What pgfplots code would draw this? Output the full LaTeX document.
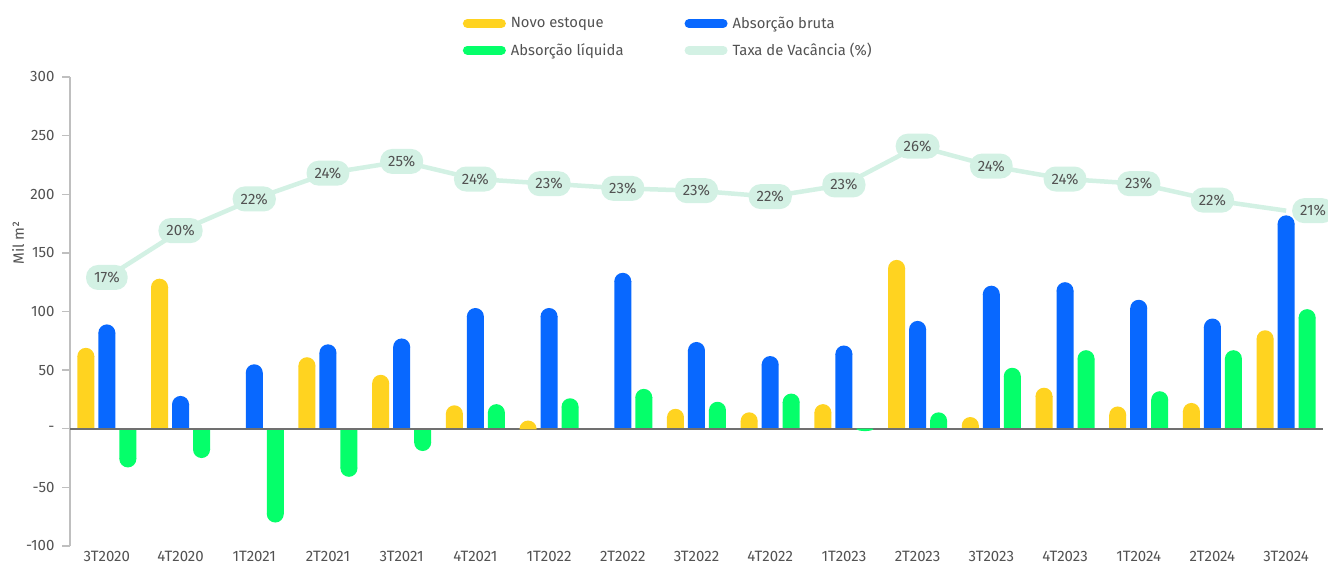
\documentclass[border=0pt]{standalone}
\usepackage{pgfplots}
\pgfplotsset{compat=1.18}
\usepackage{pgfplotstable}
\usepackage{fontspec}
\setmainfont{Fira Sans}
\definecolor{ycol}{HTML}{FFD320}
\definecolor{bcol}{HTML}{0868FF}
\definecolor{gcol}{HTML}{05FF6A}
\definecolor{mcol}{HTML}{D3F1E4}
\definecolor{tcol}{HTML}{525252}
\definecolor{acol}{HTML}{BFBFBF}
\definecolor{zcol}{HTML}{707070}

\pgfplotstableread{
x  nov  bru  liq  vac  pct
0  69   89   -33  129  17
1  128  28   -25  169  20
2  0    55   -80  196  22
3  61   72   -41  218  24
4  46   77   -19  228  25
5  20   103  21   213  24
6  7    103  26   209  23
7  0    133  34   205  23
8  17   74   23   203  23
9  14   62   30   198  22
10 21   71   -2   208  23
11 144  92   14   241  26
12 10   122  52   224  24
13 35   125  67   213  24
14 19   110  32   209  23
15 22   94   67   195  22
16 84   182  102  186  21
}\datatable

\pgfdeclareplotmark{cap}{%
  \pgfmathparse{abs(\ry)>0.01 ? 1 : 0}%
  \ifnum\pgfmathresult=1
    \pgfmathsetmacro\capsc{min(abs(\ry)/7.25,1)}%
    \pgftransformyscale{\capsc}%
    \pgfmathparse{\ry<0 ? 1 : 0}%
    \ifnum\pgfmathresult=1 \def\capend{360}\def\capov{0.6pt}\else\def\capend{0}\def\capov{-0.6pt}\fi
    \pgfpathmoveto{\pgfqpoint{-\pgfplotmarksize}{\capov}}%
    \pgfpathlineto{\pgfqpoint{-\pgfplotmarksize}{0pt}}%
    \pgfpatharc{180}{\capend}{\pgfplotmarksize}%
    \pgfpathlineto{\pgfqpoint{\pgfplotmarksize}{\capov}}%
    \pgfpathclose
    \pgfusepathqfill
  \fi
}

\pgfplotsset{
  capfilter/.style={y filter/.expression={y>0 ? max(y-7.25,0) : min(y+7.25,0)}},
  barstyle/.style 2 args={ybar, bar width=17pt, bar shift=#2, draw=none, fill=#1, capfilter,
    legend image code/.code={\draw[draw=#1, line width=9pt, line cap=round] (0pt,0pt) -- (34pt,0pt);}},
  capstyle/.style 2 args={only marks, mark=cap, mark size=8.5pt, color=#1, forget plot, capfilter,
    mark options={draw=none, fill=#1, xshift=#2}},
}

\begin{document}
\begin{tikzpicture}
\path[use as bounding box] (0,0) rectangle (1328pt,564pt);
\begin{axis}[
  at={(70pt,18pt)}, anchor=south west,
  scale only axis, width=1253pt, height=469pt,
  xmin=-0.5, xmax=16.5, ymin=-100, ymax=300,
  axis x line*=bottom, axis y line*=left,
  x axis line style={draw=none},
  y axis line style={draw=acol, line width=1.3pt, -},
  xtick={0,...,16},
  xticklabels={3T2020,4T2020,1T2021,2T2021,3T2021,4T2021,1T2022,2T2022,3T2022,4T2022,1T2023,2T2023,3T2023,4T2023,1T2024,2T2024,3T2024},
  ytick={-100,-50,0,50,100,150,200,250,300},
  yticklabels={-100,-50,-,50,100,150,200,250,300},
  xtick style={draw=none},
  ytick style={draw=acol, line width=1.3pt},
  tick align=outside, major tick length=8pt,
  ticklabel style={font=\fontsize{15pt}{18pt}\selectfont, text=tcol},
  xticklabel style={yshift=6pt},
  yticklabel style={xshift=-4pt},
  ylabel={Mil m²},
  ylabel style={at={([xshift=-52pt]rel axis cs:0,0.646)}, anchor=center, font=\fontsize{15pt}{18pt}\selectfont, text=tcol},
  clip=false,
  legend columns=2,
  legend cell align=left,
  legend style={at={([yshift=-3pt]rel axis cs:0.311,1.143)}, anchor=north west, draw=none, fill=none,
    font=\fontsize{14.8pt}{18pt}\selectfont, text=tcol,
    /tikz/every odd column/.append style={column sep=3pt},
    /tikz/every even column/.append style={column sep=59pt},
    /tikz/row sep=9pt},
]
\addplot[barstyle={ycol}{-21pt}] table[x=x, y=nov] {\datatable};
\addlegendentry{Novo estoque}
\addplot[barstyle={bcol}{0pt}] table[x=x, y=bru] {\datatable};
\addlegendentry{Absorção bruta}
\addplot[barstyle={gcol}{21pt}] table[x=x, y=liq] {\datatable};
\addlegendentry{Absorção líquida}

\addplot[capstyle={ycol}{-21pt}, visualization depends on={\thisrow{nov} \as \ry}] table[x=x, y=nov] {\datatable};
\addplot[capstyle={bcol}{0pt}, visualization depends on={\thisrow{bru} \as \ry}] table[x=x, y=bru] {\datatable};
\addplot[capstyle={gcol}{21pt}, visualization depends on={\thisrow{liq} \as \ry}] table[x=x, y=liq] {\datatable};

\draw[zcol, line width=1.6pt] ({rel axis cs:0,0}|-{axis cs:0,0}) -- ({rel axis cs:1,0}|-{axis cs:0,0});

\addplot[mcol, line width=4.5pt, mark=none,
  legend image code/.code={\draw[draw=mcol, line width=9pt, line cap=round] (0pt,0pt) -- (34pt,0pt);},
  point meta=\thisrow{pct},
  visualization depends on={\thisrow{x} \as \xv},
  /pgf/number format/assume math mode=true,
  nodes near coords={\pgfmathprintnumber[assume math mode=true]{\pgfplotspointmeta}\%},
  every node near coord/.append style={anchor=center, fill=mcol, text=tcol,
    font=\fontsize{15pt}{18pt}\selectfont, rounded corners=12pt,
    minimum height=25pt, inner xsep=8pt, xshift={(\xv>15.5)*27}}
] table[x=x, y=vac] {\datatable};
\addlegendentry{Taxa de Vacância (\%)}
\end{axis}
\end{tikzpicture}
\end{document}
